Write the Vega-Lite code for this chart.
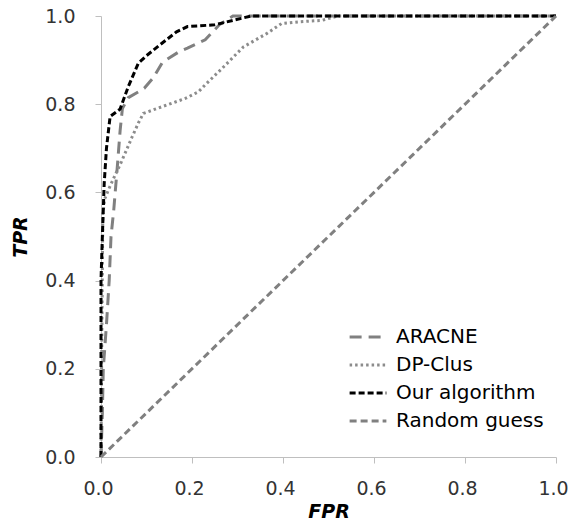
{
  "$schema": "https://vega.github.io/schema/vega-lite/v6.json",
  "width": 455,
  "height": 441,
  "autosize": "none",
  "padding": {"left": 101, "top": 16, "right": 12, "bottom": 68},
  "background": "white",
  "config": {"view": {"stroke": null}, "font": "DejaVu Sans"},
  "data": {"values": [
    {"s": "ARACNE", "i": 0, "fpr": 0, "tpr": 0},
    {"s": "ARACNE", "i": 1, "fpr": 0.003, "tpr": 0.1},
    {"s": "ARACNE", "i": 2, "fpr": 0.005, "tpr": 0.2},
    {"s": "ARACNE", "i": 3, "fpr": 0.012, "tpr": 0.3},
    {"s": "ARACNE", "i": 4, "fpr": 0.018, "tpr": 0.4},
    {"s": "ARACNE", "i": 5, "fpr": 0.022, "tpr": 0.5},
    {"s": "ARACNE", "i": 6, "fpr": 0.028, "tpr": 0.56},
    {"s": "ARACNE", "i": 7, "fpr": 0.036, "tpr": 0.66},
    {"s": "ARACNE", "i": 8, "fpr": 0.042, "tpr": 0.74},
    {"s": "ARACNE", "i": 9, "fpr": 0.047, "tpr": 0.79},
    {"s": "ARACNE", "i": 10, "fpr": 0.06, "tpr": 0.815},
    {"s": "ARACNE", "i": 11, "fpr": 0.082, "tpr": 0.828},
    {"s": "ARACNE", "i": 12, "fpr": 0.095, "tpr": 0.836},
    {"s": "ARACNE", "i": 13, "fpr": 0.115, "tpr": 0.86},
    {"s": "ARACNE", "i": 14, "fpr": 0.135, "tpr": 0.895},
    {"s": "ARACNE", "i": 15, "fpr": 0.17, "tpr": 0.918},
    {"s": "ARACNE", "i": 16, "fpr": 0.19, "tpr": 0.927},
    {"s": "ARACNE", "i": 17, "fpr": 0.229, "tpr": 0.946},
    {"s": "ARACNE", "i": 18, "fpr": 0.26, "tpr": 0.98},
    {"s": "ARACNE", "i": 19, "fpr": 0.29, "tpr": 1.0},
    {"s": "ARACNE", "i": 20, "fpr": 1.0, "tpr": 1.0},
    {"s": "DP-Clus", "i": 0, "fpr": 0, "tpr": 0},
    {"s": "DP-Clus", "i": 1, "fpr": 0.002, "tpr": 0.3},
    {"s": "DP-Clus", "i": 2, "fpr": 0.004, "tpr": 0.55},
    {"s": "DP-Clus", "i": 3, "fpr": 0.008, "tpr": 0.585},
    {"s": "DP-Clus", "i": 4, "fpr": 0.016, "tpr": 0.605},
    {"s": "DP-Clus", "i": 5, "fpr": 0.027, "tpr": 0.63},
    {"s": "DP-Clus", "i": 6, "fpr": 0.045, "tpr": 0.67},
    {"s": "DP-Clus", "i": 7, "fpr": 0.056, "tpr": 0.696},
    {"s": "DP-Clus", "i": 8, "fpr": 0.068, "tpr": 0.725},
    {"s": "DP-Clus", "i": 9, "fpr": 0.082, "tpr": 0.757},
    {"s": "DP-Clus", "i": 10, "fpr": 0.093, "tpr": 0.779},
    {"s": "DP-Clus", "i": 11, "fpr": 0.133, "tpr": 0.794},
    {"s": "DP-Clus", "i": 12, "fpr": 0.185, "tpr": 0.813},
    {"s": "DP-Clus", "i": 13, "fpr": 0.214, "tpr": 0.828},
    {"s": "DP-Clus", "i": 14, "fpr": 0.229, "tpr": 0.844},
    {"s": "DP-Clus", "i": 15, "fpr": 0.265, "tpr": 0.88},
    {"s": "DP-Clus", "i": 16, "fpr": 0.313, "tpr": 0.93},
    {"s": "DP-Clus", "i": 17, "fpr": 0.364, "tpr": 0.96},
    {"s": "DP-Clus", "i": 18, "fpr": 0.397, "tpr": 0.983},
    {"s": "DP-Clus", "i": 19, "fpr": 0.437, "tpr": 0.987},
    {"s": "DP-Clus", "i": 20, "fpr": 0.485, "tpr": 0.99},
    {"s": "DP-Clus", "i": 21, "fpr": 0.52, "tpr": 1.0},
    {"s": "DP-Clus", "i": 22, "fpr": 1.0, "tpr": 1.0},
    {"s": "Our algorithm", "i": 0, "fpr": 0, "tpr": 0},
    {"s": "Our algorithm", "i": 1, "fpr": 0, "tpr": 0.4},
    {"s": "Our algorithm", "i": 2, "fpr": 0.003, "tpr": 0.5},
    {"s": "Our algorithm", "i": 3, "fpr": 0.007, "tpr": 0.62},
    {"s": "Our algorithm", "i": 4, "fpr": 0.012, "tpr": 0.7},
    {"s": "Our algorithm", "i": 5, "fpr": 0.02, "tpr": 0.772},
    {"s": "Our algorithm", "i": 6, "fpr": 0.042, "tpr": 0.789},
    {"s": "Our algorithm", "i": 7, "fpr": 0.06, "tpr": 0.84},
    {"s": "Our algorithm", "i": 8, "fpr": 0.082, "tpr": 0.893},
    {"s": "Our algorithm", "i": 9, "fpr": 0.1, "tpr": 0.91},
    {"s": "Our algorithm", "i": 10, "fpr": 0.13, "tpr": 0.935},
    {"s": "Our algorithm", "i": 11, "fpr": 0.166, "tpr": 0.964},
    {"s": "Our algorithm", "i": 12, "fpr": 0.19, "tpr": 0.976},
    {"s": "Our algorithm", "i": 13, "fpr": 0.25, "tpr": 0.98},
    {"s": "Our algorithm", "i": 14, "fpr": 0.29, "tpr": 0.99},
    {"s": "Our algorithm", "i": 15, "fpr": 0.33, "tpr": 1.0},
    {"s": "Our algorithm", "i": 16, "fpr": 1.0, "tpr": 1.0},
    {"s": "Random guess", "i": 0, "fpr": 0, "tpr": 0},
    {"s": "Random guess", "i": 1, "fpr": 1.0, "tpr": 1.0}
  ]},
  "mark": {"type": "line", "strokeWidth": 3, "clip": false},
  "encoding": {
    "x": {"field": "fpr", "type": "quantitative", "scale": {"domain": [0, 1], "nice": false, "zero": false},
      "axis": {"title": "FPR", "values": [0, 0.2, 0.4, 0.6, 0.8, 1.0], "format": ".1f", "grid": false,
        "domainColor": "#bfbfbf", "tickColor": "#bfbfbf", "tickSize": 6, "labelFontSize": 19, "labelColor": "#333333",
        "labelPadding": 16, "labelOffset": -3, "titleFontSize": 19, "titleFontWeight": "bold", "titleFontStyle": "italic",
        "titleColor": "#000000", "titlePadding": 4, "labelFlush": false}},
    "y": {"field": "tpr", "type": "quantitative", "scale": {"domain": [0, 1], "nice": false, "zero": false},
      "axis": {"title": "TPR", "values": [0, 0.2, 0.4, 0.6, 0.8, 1.0], "format": ".1f", "grid": false,
        "domainColor": "#bfbfbf", "tickColor": "#bfbfbf", "tickSize": 6, "labelFontSize": 19, "labelColor": "#333333",
        "labelPadding": 20, "titleFontSize": 19, "titleFontWeight": "bold", "titleFontStyle": "italic",
        "titleColor": "#000000", "titlePadding": 14, "labelFlush": false}},
    "order": {"field": "i", "type": "quantitative"},
    "color": {"field": "s", "type": "nominal",
      "scale": {"domain": ["ARACNE", "DP-Clus", "Our algorithm", "Random guess"], "range": ["#808080", "#8c8c8c", "#000000", "#808080"]},
      "legend": {"title": null, "orient": "none", "legendX": 251, "legendY": 305, "labelFontSize": 20, "labelColor": "#000000",
        "symbolType": "M-1.3,0H1.3", "symbolSize": 800, "symbolStrokeWidth": 3, "rowPadding": 2, "labelOffset": 12, "labelLimit": 300,
        "symbolOffset": 0, "labelBaseline": "middle"}},
    "strokeDash": {"field": "s", "type": "nominal",
      "scale": {"domain": ["ARACNE", "DP-Clus", "Our algorithm", "Random guess"], "range": [[12, 7], [2.5, 3], [6, 3], [7, 4]]},
      "legend": {"title": null, "orient": "none", "legendX": 251, "legendY": 305, "labelFontSize": 20, "labelColor": "#000000",
        "symbolType": "M-1.3,0H1.3", "symbolSize": 800, "symbolStrokeWidth": 3, "rowPadding": 2, "labelOffset": 12, "labelLimit": 300,
        "symbolOffset": 0, "labelBaseline": "middle"}}
  },
  "resolve": {"legend": {"color": "shared", "strokeDash": "shared"}}
}
